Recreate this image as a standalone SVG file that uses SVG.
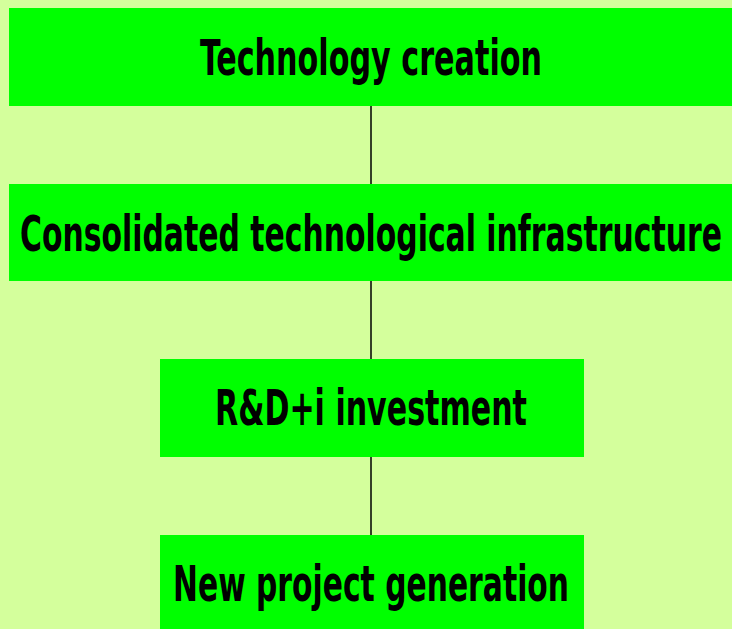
<svg xmlns="http://www.w3.org/2000/svg" width="732" height="629" viewBox="0 0 732 629">
<style>
.box{fill:#00ff00;}
.lbl{font-family:"DejaVu Sans Condensed","DejaVu Sans","Liberation Sans Narrow",sans-serif;font-stretch:condensed;font-weight:bold;font-size:31px;fill:#000;text-anchor:middle;}
.conn{stroke:#000;stroke-width:1.5;fill:none;}
</style>
<rect x="0" y="0" width="732" height="629" fill="#d4ff9c"/>
<g id="connectors">
<line class="conn" x1="371" y1="106" x2="371" y2="184"/>
<line class="conn" x1="371" y1="281" x2="371" y2="359"/>
<line class="conn" x1="371" y1="457" x2="371" y2="535"/>
</g>
<g id="node1">
<rect class="box" x="9" y="8" width="723" height="98"/>
<text class="lbl" transform="translate(371,75) scale(1,1.58)" textLength="342" lengthAdjust="spacingAndGlyphs">Technology creation</text>
</g>
<g id="node2">
<rect class="box" x="9" y="184" width="723" height="97"/>
<text class="lbl" transform="translate(371,251) scale(1,1.58)" textLength="702" lengthAdjust="spacingAndGlyphs">Consolidated technological infrastructure</text>
</g>
<g id="node3">
<rect class="box" x="160" y="359" width="424" height="98"/>
<text class="lbl" transform="translate(371,425) scale(1,1.58)" textLength="312" lengthAdjust="spacingAndGlyphs">R&amp;D+i investment</text>
</g>
<g id="node4">
<rect class="box" x="160" y="535" width="424" height="94"/>
<text class="lbl" transform="translate(371,601) scale(1,1.58)" textLength="396" lengthAdjust="spacingAndGlyphs">New project generation</text>
</g>
</svg>
